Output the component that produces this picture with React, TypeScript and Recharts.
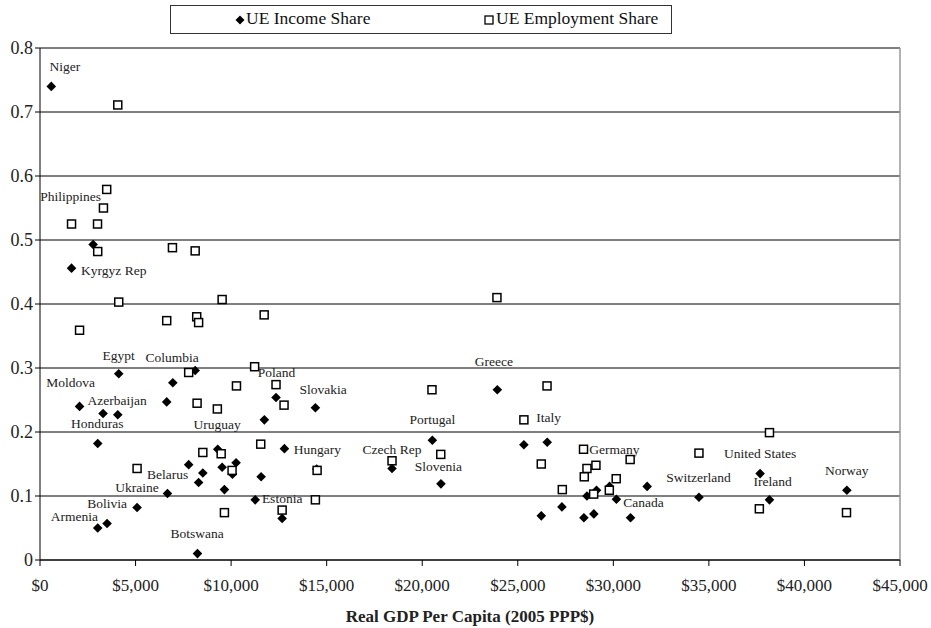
import { ScatterChart, Scatter, XAxis, YAxis, CartesianGrid, ReferenceLine } from 'recharts';

// [GDP per capita, share]
const incomeShare: [number, number][] = [
  [590, 0.740], [2780, 0.493], [1650, 0.456], [4120, 0.291], [6950, 0.277],
  [8120, 0.296], [2070, 0.240], [3300, 0.229], [4070, 0.227], [6630, 0.247],
  [3020, 0.182], [12350, 0.254], [11740, 0.219], [14410, 0.238], [7780, 0.149],
  [8520, 0.136], [8300, 0.121], [9300, 0.173], [9530, 0.145], [10260, 0.152],
  [10070, 0.134], [9650, 0.110], [11570, 0.130], [12790, 0.174], [11260, 0.094],
  [12670, 0.065], [6670, 0.104], [5080, 0.082], [3020, 0.050], [3510, 0.057],
  [8240, 0.010], [14480, 0.142], [18420, 0.143], [20530, 0.187], [20980, 0.119],
  [23930, 0.266], [25320, 0.180], [26540, 0.184], [26230, 0.069], [27310, 0.083],
  [28460, 0.066], [28620, 0.100], [28980, 0.072], [29120, 0.109], [29800, 0.115],
  [30160, 0.095], [30900, 0.066], [31770, 0.115], [34480, 0.098], [37680, 0.135],
  [38170, 0.094], [42220, 0.109],
];

const employmentShare: [number, number][] = [
  [4070, 0.711], [3490, 0.579], [3320, 0.550], [1650, 0.525], [3010, 0.525],
  [3020, 0.482], [6930, 0.488], [8120, 0.483], [4120, 0.403], [2070, 0.359],
  [6630, 0.374], [8200, 0.380], [8300, 0.371], [9530, 0.407], [11730, 0.383],
  [7780, 0.293], [11230, 0.302], [10280, 0.272], [12350, 0.274], [8220, 0.245],
  [9280, 0.236], [12770, 0.242], [5080, 0.143], [8520, 0.168], [9480, 0.166],
  [11550, 0.181], [10050, 0.140], [9650, 0.074], [14410, 0.094], [12670, 0.078],
  [14500, 0.140], [20510, 0.266], [26530, 0.272], [25320, 0.219], [18420, 0.155],
  [20970, 0.165], [26230, 0.150], [27330, 0.110], [28440, 0.173], [28620, 0.143],
  [29090, 0.148], [28480, 0.130], [28970, 0.103], [29790, 0.109], [30150, 0.127],
  [23910, 0.410], [30880, 0.157], [34480, 0.167], [38170, 0.199], [37640, 0.080],
  [42200, 0.074],
];

// country labels: [name, GDP, share] of the label's centre
const countryLabels: [string, number, number][] = [
  ['Niger', 1300, 0.771], ['Philippines', 1600, 0.568], ['Kyrgyz Rep', 3860, 0.453],
  ['Egypt', 4120, 0.320], ['Columbia', 6910, 0.317], ['Poland', 12370, 0.293],
  ['Moldova', 1600, 0.277], ['Slovakia', 14810, 0.266], ['Azerbaijan', 4040, 0.249],
  ['Honduras', 2990, 0.214], ['Uruguay', 9270, 0.212], ['Hungary', 14520, 0.172],
  ['Belarus', 6680, 0.133], ['Ukraine', 5080, 0.113], ['Bolivia', 3510, 0.088],
  ['Armenia', 1800, 0.068], ['Botswana', 8220, 0.041], ['Estonia', 12670, 0.096],
  ['Czech Rep', 18420, 0.173], ['Portugal', 20530, 0.219], ['Slovenia', 20840, 0.146],
  ['Greece', 23750, 0.310], ['Italy', 26610, 0.222], ['Germany', 30060, 0.173],
  ['United States', 37680, 0.167], ['Switzerland', 34460, 0.129], ['Ireland', 38340, 0.123],
  ['Norway', 42220, 0.140], ['Canada', 31580, 0.090],
];

const xTicks = [0, 5000, 10000, 15000, 20000, 25000, 30000, 35000, 40000, 45000];
const yTicks = [0, 0.1, 0.2, 0.3, 0.4, 0.5, 0.6, 0.7, 0.8];

const FONT = '"Liberation Serif", "Times New Roman", serif';

const incomeData = incomeShare.map(([x, y]) => ({ x, y }));
const employmentData = employmentShare.map(([x, y]) => ({ x, y }));
const labelData = countryLabels.map(([name, x, y]) => ({ name, x, y }));

const Diamond = (props: any) => {
  const { cx, cy } = props;
  const r = 4.8;
  return <polygon points={`${cx},${cy - r} ${cx + r},${cy} ${cx},${cy + r} ${cx - r},${cy}`} fill="#000" />;
};

const Box = (props: any) => {
  const { cx, cy } = props;
  return <rect x={cx - 4} y={cy - 4} width={8} height={8} fill="#fff" stroke="#000" strokeWidth={1.5} />;
};

const CountryText = (props: any) => {
  const { cx, cy, payload } = props;
  return (
    <text x={cx} y={cy} textAnchor="middle" dominantBaseline="central" fontSize={13.5} fontFamily={FONT} fill="#222">
      {payload.name}
    </text>
  );
};

const LegendBox = () => (
  <div
    style={{
      position: 'absolute', left: 170, top: 5, width: 500, height: 27,
      border: '1px solid #333', background: '#fff', fontFamily: FONT, fontSize: 17.5,
      color: '#111',
    }}
  >
    <svg width={10} height={10} style={{ position: 'absolute', left: 64, top: 9 }}>
      <polygon points="5,0.5 9.5,5 5,9.5 0.5,5" fill="#000" />
    </svg>
    <span style={{ position: 'absolute', left: 75, top: 2 }}>UE Income Share</span>
    <svg width={10} height={10} style={{ position: 'absolute', left: 313, top: 9 }}>
      <rect x={1} y={1} width={8} height={8} fill="#fff" stroke="#000" strokeWidth={1.3} />
    </svg>
    <span style={{ position: 'absolute', left: 325, top: 2 }}>UE Employment Share</span>
  </div>
);

export default function App() {
  return (
    <div style={{ position: 'absolute', left: 0, top: 0, width: 931, height: 628, background: '#fff' }}>
      <ScatterChart width={931} height={628} margin={{ top: 48, right: 31, bottom: 0, left: 0 }}>
        <CartesianGrid vertical={false} stroke="#000" strokeWidth={1} />
        <XAxis
          type="number"
          dataKey="x"
          domain={[0, 45000]}
          ticks={xTicks}
          tickFormatter={(v: number) => `$${v.toLocaleString('en-US')}`}
          height={68}
          tickSize={6}
          tickMargin={13}
          stroke="#000"
          tick={{ fontSize: 17, fontFamily: FONT, fill: '#222' }}
          label={{ value: 'Real GDP Per Capita (2005 PPP$)', position: 'insideBottom', offset: 6, fontSize: 17, fontWeight: 'bold', fontFamily: FONT, fill: '#222' }}
        />
        <YAxis
          type="number"
          dataKey="y"
          domain={[0, 0.8]}
          ticks={yTicks}
          tickFormatter={(v: number) => (v === 0 ? '0' : v.toFixed(1))}
          width={40}
          tickSize={5}
          tickMargin={2}
          stroke="#000"
          tick={{ fontSize: 18, fontFamily: FONT, fill: '#222' }}
        />
        <ReferenceLine x={45000} stroke="#999" strokeWidth={1.5} />
        <Scatter name="UE Income Share" data={incomeData} shape={<Diamond />} isAnimationActive={false} />
        <Scatter name="UE Employment Share" data={employmentData} shape={<Box />} isAnimationActive={false} />
        <Scatter name="labels" data={labelData} shape={<CountryText />} isAnimationActive={false} legendType="none" />
      </ScatterChart>
      <LegendBox />
    </div>
  );
}
